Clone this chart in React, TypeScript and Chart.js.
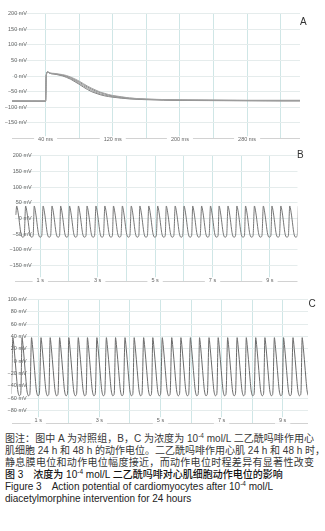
import React, { useEffect, useRef } from 'react';
import { Chart, registerables } from 'chart.js';

Chart.register(...registerables);

// ---------- Panel A (control, single action potential, ms) ----------
const timeA = [0, 40, 40.8, 42.5, 45, 50, 55, 60, 65, 70, 75, 80, 85, 90, 95, 100, 105, 110, 115, 120, 130, 140, 150, 160, 180, 200, 240, 280, 320, 343];
const traceA1 = [-80, -80, 2, 14, 10, 9, 7, 5, 2, -3, -9, -16, -24, -32, -39, -45, -51, -55, -59, -62, -66, -70, -72, -73.5, -75, -76, -77, -77.5, -77.5, -77.5];
const traceA2 = [-80, -80, 2, 13, 10, 8, 6, 3.5, 0, -5, -12, -19, -27, -35, -42, -48, -53, -57, -61, -63.5, -67.5, -70.5, -72.5, -74, -75.5, -76.5, -77, -78, -78, -78];
const traceA3 = [-80, -80, 2, 13, 9, 7, 5, 2, -2, -8, -15, -23, -31, -39, -46, -52, -57, -60.5, -63.5, -66, -69.5, -72, -73.5, -74.5, -76, -77, -78, -78.5, -79, -79];
const traceA4 = [-80, -80.5, 2, 14, 9, 7, 4, 1, -4, -10, -18, -26, -35, -43, -50, -55, -59.5, -63, -65.5, -67.5, -70.5, -73, -74.5, -75.5, -77, -78, -78.5, -79, -79.5, -79.5];
const yTicksA = [-200, -150, -100, -50, 0, 50, 100, 150, 200];
const xTicksA = [40, 80, 120, 160, 200, 240, 280, 320];
const xLabelsA = ['40 ms', '', '120 ms', '', '200 ms', '', '280 ms', ''];

// ---------- Panel B (24 h, s) ----------
const startB = { x: 0.15, y: 12 };
const beatPeaksB = [0.18, 0.49, 0.79, 1.10, 1.41, 1.71, 2.02, 2.33, 2.63, 2.94, 3.25, 3.55, 3.86, 4.17, 4.47, 4.78, 5.09, 5.39, 5.70, 6.01, 6.31, 6.62, 6.93, 7.23, 7.54, 7.85, 8.15, 8.46, 8.77, 9.07, 9.38, 9.69, 9.99];
const beatOffsetsB = [0, 0.02, 0.05, 0.08, 0.11, 0.14, 0.17, 0.20, 0.23, 0.25, 0.265];
const beatVoltsB = [40, 34, 18, -2, -25, -45, -56, -59, -59, -57, -52];
const yTicksB = [-200, -150, -100, -50, 0, 50, 100, 150, 200];
const xTicksB = [1, 2, 3, 4, 5, 6, 7, 8, 9];
const xLabelsB = ['1 s', '', '3 s', '', '5 s', '', '7 s', '', '9 s'];

// ---------- Panel C (48 h, s) ----------
const startC = { x: 0.12, y: -53 };
const beatPeaksC = [0.17, 0.47, 0.78, 1.09, 1.39, 1.70, 2.00, 2.31, 2.61, 2.92, 3.23, 3.53, 3.84, 4.14, 4.45, 4.75, 5.06, 5.37, 5.67, 5.98, 6.28, 6.59, 6.89, 7.20, 7.51, 7.81, 8.12, 8.42, 8.73, 9.03, 9.34, 9.64];
const beatOffsetsC = [0, 0.015, 0.04, 0.07, 0.10, 0.13, 0.155, 0.18, 0.21, 0.24, 0.26];
const beatVoltsC = [38, 33, 20, 3, -15, -33, -46, -53, -56, -55, -50];
const yTicksC = [-100, -80, -60, -40, -20, 0, 20, 40, 60, 80, 100];
const xTicksC = [1, 2, 3, 4, 5, 6, 7, 8, 9];
const xLabelsC = ['1 s', '', '3 s', '', '5 s', '', '7 s', '', '9 s'];

const TICK_FONT = { family: '"Liberation Sans", Arial, sans-serif', size: 5.5 };

function fmtMv(v: number) {
  return (v < 0 ? '\u2212' + Math.abs(v) : String(v)) + ' mV';
}

function buildBeats(start: { x: number; y: number }, peaks: number[], offsets: number[], volts: number[]) {
  const pts = [start];
  peaks.forEach((p) => {
    offsets.forEach((o, i) => pts.push({ x: Math.round((p + o) * 1000) / 1000, y: volts[i] }));
  });
  return pts;
}

function lineDs(data: any[], color: string) {
  return {
    data,
    borderColor: color,
    borderWidth: 1,
    pointRadius: 0,
    fill: false,
    cubicInterpolationMode: 'monotone' as const,
  };
}

interface Cfg {
  datasets: any[];
  xMin: number; xMax: number; yMin: number; yMax: number;
  xTicks: number[]; xLabels: string[]; yTicks: number[];
  padding: { top: number; bottom: number; left: number; right: number };
  yLabelPad: number; xLabelPad: number;
}

// axis boxes are collapsed to zero size so labels sit over the plot; disable label clipping
function collapse(dim: 'width' | 'height') {
  return (s: any) => {
    s[dim] = 0;
    s._computeLabelArea = () => undefined;
  };
}

function makeConfig(c: Cfg): any {
  return {
    type: 'line',
    data: { datasets: c.datasets },
    options: {
      animation: false,
      responsive: false,
      maintainAspectRatio: false,
      layout: { padding: c.padding },
      plugins: { legend: { display: false }, tooltip: { enabled: false } },
      scales: {
        x: {
          type: 'linear',
          min: c.xMin,
          max: c.xMax,
          afterFit: collapse('height'),
          afterBuildTicks: (s: any) => { s.ticks = c.xTicks.map((v) => ({ value: v })); },
          grid: { color: 'rgba(160,205,205,0.5)', drawTicks: false, lineWidth: 1 },
          border: { display: false },
          ticks: {
            autoSkip: false,
            maxRotation: 0,
            minRotation: 0,
            callback: (_v: any, i: number) => c.xLabels[i],
            font: TICK_FONT,
            color: '#666',
            padding: c.xLabelPad,
            showLabelBackdrop: true,
            backdropColor: (ctx: any) => (c.xLabels[ctx.index] ? '#ffffff' : 'rgba(0,0,0,0)'),
            backdropPadding: { x: 4, y: 0 },
            z: 1,
          },
        },
        y: {
          type: 'linear',
          position: 'left',
          min: c.yMin,
          max: c.yMax,
          afterFit: collapse('width'),
          afterBuildTicks: (s: any) => { s.ticks = c.yTicks.map((v) => ({ value: v })); },
          grid: {
            color: (ctx: any) => (ctx.tick && ctx.tick.value === c.yMin ? '#d2d2d2' : '#e5ecec'),
            drawTicks: false,
            lineWidth: 1,
          },
          border: { display: false },
          ticks: {
            autoSkip: false,
            callback: (v: number) => (v === c.yMin ? '' : fmtMv(v)),
            font: TICK_FONT,
            color: '#666',
            padding: c.yLabelPad,
          },
        },
      },
    },
  };
}

const configA = () =>
  makeConfig({
    datasets: [traceA1, traceA2, traceA3, traceA4].map((tr, k) =>
      lineDs(tr.map((v, i) => ({ x: timeA[i], y: v })), ['#a2a2a2', '#8c8c8c', '#9a9a9a', '#808080'][k])
    ),
    xMin: 0, xMax: 343, yMin: -200, yMax: 200,
    xTicks: xTicksA, xLabels: xLabelsA, yTicks: yTicksA,
    padding: { top: 13.8, bottom: 6.5, left: 12, right: 25 },
    yLabelPad: -15, xLabelPad: -2.3,
  });

const configB = () =>
  makeConfig({
    datasets: [lineDs(buildBeats(startB, beatPeaksB, beatOffsetsB, beatVoltsB), '#767676')],
    xMin: 0.12, xMax: 9.96, yMin: -200, yMax: 200,
    xTicks: xTicksB, xLabels: xLabelsB, yTicks: yTicksB,
    padding: { top: 10.7, bottom: 5.6, left: 15, right: 27.5 },
    yLabelPad: -16.7, xLabelPad: -4.2,
  });

const configC = () =>
  makeConfig({
    datasets: [lineDs(buildBeats(startC, beatPeaksC, beatOffsetsC, beatVoltsC), '#6a6a6a')],
    xMin: 0.13, xMax: 9.83, yMin: -100, yMax: 100,
    xTicks: xTicksC, xLabels: xLabelsC, yTicks: yTicksC,
    padding: { top: 12.3, bottom: 7, left: 11.7, right: 17 },
    yLabelPad: -15, xLabelPad: -5.8,
  });

function Panel(props: { top: number; height: number; config: () => any; letter: string; lx: number; ly: number }) {
  const ref = useRef<HTMLCanvasElement>(null);
  useEffect(() => {
    const chart = new Chart(ref.current as HTMLCanvasElement, props.config());
    return () => chart.destroy();
  }, []);
  return (
    <div style={{ position: 'absolute', left: 0, top: props.top, width: 325, height: props.height }}>
      <canvas ref={ref} width={325} height={props.height} style={{ display: 'block', width: 325, height: props.height }} />
      <div
        style={{
          position: 'absolute',
          left: props.lx,
          top: props.ly,
          fontFamily: '"Liberation Sans", Arial, sans-serif',
          fontSize: 10,
          lineHeight: '10px',
          color: '#333',
        }}
      >
        {props.letter}
      </div>
    </div>
  );
}

const CAP_FONT = '"Liberation Sans", Arial, "Noto Sans CJK SC", sans-serif';
const sup = { fontSize: 6.5, verticalAlign: 'top', lineHeight: '8px', position: 'relative' as const, top: -1 };

export default function App() {
  const justLine = {
    width: 309,
    textAlign: 'justify' as const,
    textAlignLast: 'justify' as const,
    whiteSpace: 'nowrap' as const,
    height: 12,
  };
  return (
    <div style={{ position: 'absolute', left: 0, top: 0, width: 325, height: 531, background: '#fff', overflow: 'hidden' }}>
      <Panel top={0} height={145} config={configA} letter="A" lx={300} ly={16.5} />
      <Panel top={145} height={142} config={configB} letter="B" lx={297} ly={5} />
      <Panel top={287} height={143} config={configC} letter="C" lx={308.5} ly={12} />
      <div
        style={{
          position: 'absolute',
          left: 5,
          top: 433,
          fontFamily: CAP_FONT,
          fontSize: 10,
          lineHeight: '12px',
          color: '#383838',
        }}
      >
        <div style={justLine}>
          图注：图中 A 为对照组，B，C 为浓度为 10<span style={sup}>-4</span> mol/L 二乙酰吗啡作用心
        </div>
        <div style={justLine}>肌细胞 24 h 和 48 h 的动作电位。二乙酰吗啡作用心肌 24 h 和 48 h 时，</div>
        <div style={justLine}>静息膜电位和动作电位幅度接近，而动作电位时程差异有显著性改变</div>
        <div style={{ height: 12, whiteSpace: 'nowrap', color: '#111', fontWeight: 500 }}>
          图 3　浓度为 10<span style={sup}>-4</span> mol/L 二乙酰吗啡对心肌细胞动作电位的影响
        </div>
        <div style={{ height: 12, whiteSpace: 'nowrap', color: '#222' }}>
          Figure 3　Action potential of cardiomyocytes after 10<span style={sup}>-4</span> mol/L
        </div>
        <div style={{ height: 12, whiteSpace: 'nowrap', color: '#222' }}>diacetylmorphine intervention for 24 hours</div>
      </div>
    </div>
  );
}
